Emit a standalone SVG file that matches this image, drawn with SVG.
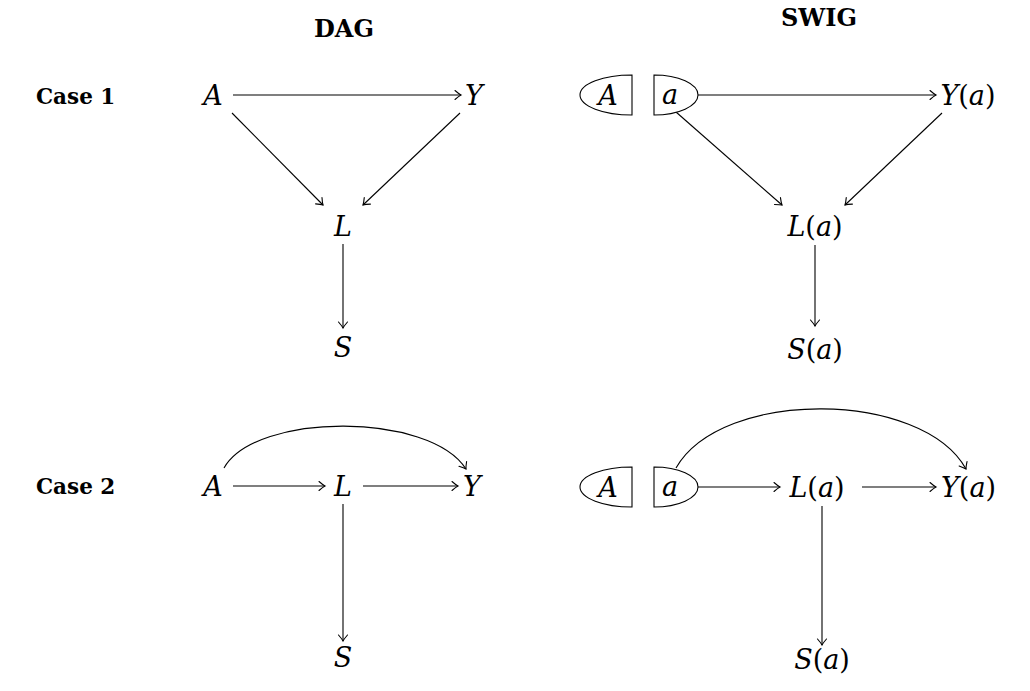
<svg xmlns="http://www.w3.org/2000/svg" width="1030" height="691" viewBox="0 0 1030 691">
<defs>
<style>
.bg{fill:#fff}
.title{font-family:"DejaVu Serif","Liberation Serif",serif;font-weight:bold;font-size:24px;fill:#000}
.case{font-family:"DejaVu Serif","Liberation Serif",serif;font-weight:bold;font-size:21.5px;fill:#000}
.m{font-family:"DejaVu Serif","Liberation Serif",serif;font-style:italic;font-size:27px;fill:#000}
.up{font-style:normal}
.e{fill:none;stroke:#000;stroke-width:1.1}
.half{fill:#fff;stroke:#000;stroke-width:1.1}
</style>
<marker id="to" markerUnits="userSpaceOnUse" markerWidth="14" markerHeight="14" viewBox="-10 -7 14 14" refX="0" refY="0" orient="auto">
<path d="M-6,-4.5 Q-2,-1 0,0 Q-2,1 -6,4.5" fill="none" stroke="#000" stroke-width="1.1" stroke-linecap="round"/>
</marker>
</defs>
<rect class="bg" x="0" y="0" width="1030" height="691"/>

<g id="headers">
<text class="title" x="344" y="37" text-anchor="middle">DAG</text>
<text class="title" x="819" y="26" text-anchor="middle">SWIG</text>
<text class="case" x="36" y="104">Case 1</text>
<text class="case" x="36" y="494">Case 2</text>
</g>

<g id="connectors">
<!-- Case 1 DAG -->
<line class="e" x1="233" y1="95" x2="461" y2="95" marker-end="url(#to)"/>
<line class="e" x1="232" y1="113" x2="323" y2="205" marker-end="url(#to)"/>
<line class="e" x1="460" y1="113" x2="363" y2="205" marker-end="url(#to)"/>
<line class="e" x1="343" y1="244" x2="343" y2="328" marker-end="url(#to)"/>
<!-- Case 1 SWIG -->
<line class="e" x1="698" y1="95" x2="936" y2="95" marker-end="url(#to)"/>
<line class="e" x1="676" y1="112" x2="782" y2="205" marker-end="url(#to)"/>
<line class="e" x1="942" y1="113" x2="845" y2="205" marker-end="url(#to)"/>
<line class="e" x1="815" y1="245" x2="815" y2="326" marker-end="url(#to)"/>
<!-- Case 2 DAG -->
<line class="e" x1="233" y1="486" x2="325" y2="486" marker-end="url(#to)"/>
<line class="e" x1="363" y1="486" x2="458" y2="486" marker-end="url(#to)"/>
<path class="e" d="M224,468 C256,412 430,412 466,469" marker-end="url(#to)"/>
<line class="e" x1="343" y1="504" x2="343" y2="641" marker-end="url(#to)"/>
<!-- Case 2 SWIG -->
<line class="e" x1="698" y1="487" x2="780" y2="487" marker-end="url(#to)"/>
<line class="e" x1="862" y1="487" x2="936" y2="487" marker-end="url(#to)"/>
<path class="e" d="M676,468 C722,388 922,390 966,469" marker-end="url(#to)"/>
<line class="e" x1="822" y1="506" x2="822" y2="645" marker-end="url(#to)"/>
</g>

<!-- Case 1 DAG nodes -->
<g id="c1-A"><text class="m" x="213" y="105" text-anchor="middle">A</text></g>
<g id="c1-Y"><text class="m" x="474" y="105" text-anchor="middle">Y</text></g>
<g id="c1-L"><text class="m" x="343" y="236" text-anchor="middle">L</text></g>
<g id="c1-S"><text class="m" x="343" y="357" text-anchor="middle">S</text></g>

<!-- Case 1 SWIG nodes -->
<g id="c1s-A">
<path class="half" d="M632,75 L632,115 A52,20 0 0 1 632,75 Z"/>
<text class="m" x="608" y="105" text-anchor="middle">A</text>
</g>
<g id="c1s-a">
<path class="half" d="M654,75 L654,115 A44,20 0 0 0 654,75 Z"/>
<text class="m" x="670" y="104" text-anchor="middle">a</text>
</g>
<g id="c1s-Y"><text class="m" x="968" y="105" text-anchor="middle">Y<tspan class="up">(</tspan>a<tspan class="up">)</tspan></text></g>
<g id="c1s-L"><text class="m" x="815" y="236" text-anchor="middle">L<tspan class="up">(</tspan>a<tspan class="up">)</tspan></text></g>
<g id="c1s-S"><text class="m" x="815" y="359" text-anchor="middle">S<tspan class="up">(</tspan>a<tspan class="up">)</tspan></text></g>

<!-- Case 2 DAG nodes -->
<g id="c2-A"><text class="m" x="213" y="496" text-anchor="middle">A</text></g>
<g id="c2-L"><text class="m" x="343" y="496" text-anchor="middle">L</text></g>
<g id="c2-Y"><text class="m" x="472" y="496" text-anchor="middle">Y</text></g>
<g id="c2-S"><text class="m" x="343" y="667" text-anchor="middle">S</text></g>

<!-- Case 2 SWIG nodes -->
<g id="c2s-A">
<path class="half" d="M632,467 L632,507 A52,20 0 0 1 632,467 Z"/>
<text class="m" x="608" y="497" text-anchor="middle">A</text>
</g>
<g id="c2s-a">
<path class="half" d="M654,467 L654,507 A44,20 0 0 0 654,467 Z"/>
<text class="m" x="670" y="496" text-anchor="middle">a</text>
</g>
<g id="c2s-L"><text class="m" x="817" y="497" text-anchor="middle">L<tspan class="up">(</tspan>a<tspan class="up">)</tspan></text></g>
<g id="c2s-Y"><text class="m" x="941" y="497">Y<tspan class="up">(</tspan>a<tspan class="up">)</tspan></text></g>
<g id="c2s-S"><text class="m" x="822" y="669" text-anchor="middle">S<tspan class="up">(</tspan>a<tspan class="up">)</tspan></text></g>
</svg>
